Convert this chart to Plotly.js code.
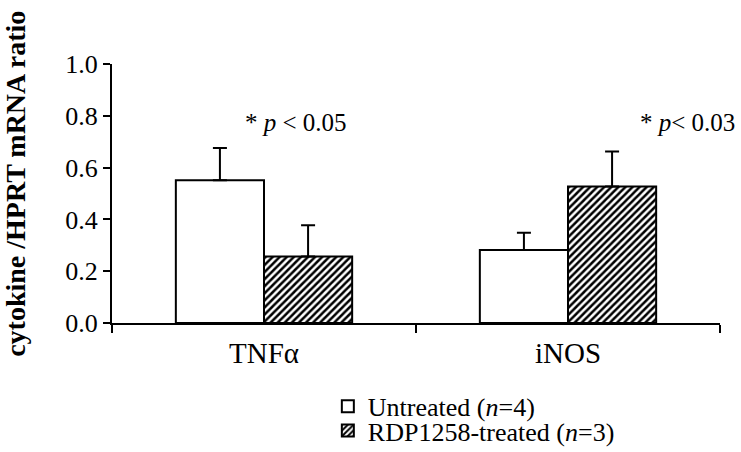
<!DOCTYPE html>
<html>
<head>
<meta charset="utf-8">
<script src="https://cdn.plot.ly/plotly-3.0.1.min.js"></script>
<style>body{margin:0;padding:0;background:#fff;}#chart{width:741px;height:452px;}</style>
</head>
<body>
<div id="chart"></div>
<script>
const categories = ["TNFα", "iNOS"];
const untreatedValues = [0.551, 0.282];
const untreatedErrors = [0.125, 0.066];
const treatedValues = [0.257, 0.527];
const treatedErrors = [0.12, 0.135];
const seriesNames = ["Untreated (<i>n</i>=4)", "RDP1258-treated (<i>n</i>=3)"];
const yTickValues = [0, 0.2, 0.4, 0.6, 0.8, 1.0];
const pLabels = ["* <i>p</i> < 0.05", "* <i>p</i>< 0.03"];
const yTitle = "cytokine /HPRT mRNA ratio";

const serif = "Liberation Serif, Times New Roman, serif";

const traces = [
  {
    type: "bar", x: categories, y: untreatedValues, name: seriesNames[0],
    marker: {color: "#ffffff", line: {color: "#000", width: 2}},
    error_y: {type: "data", array: untreatedErrors, arrayminus: [0, 0], symmetric: false, color: "#000", thickness: 2, width: 7},
    legend: "legend"
  },
  {
    type: "bar", x: categories, y: treatedValues, name: seriesNames[1],
    marker: {color: "#ffffff", line: {color: "#000", width: 2},
      pattern: {shape: "/", fgcolor: "#000", bgcolor: "#fff", size: 5, solidity: 0.5}},
    error_y: {type: "data", array: treatedErrors, arrayminus: [0, 0], symmetric: false, color: "#000", thickness: 2, width: 7},
    legend: "legend2"
  }
];

const layout = {
  width: 741, height: 452,
  margin: {l: 112, r: 21, t: 64, b: 129, autoexpand: false},
  paper_bgcolor: "#fff", plot_bgcolor: "#fff",
  font: {family: serif, color: "#000", size: 24},
  barmode: "group", bargap: 0.42, bargroupgap: 0,
  xaxis: {
    type: "category", showline: true, linecolor: "#000", linewidth: 2,
    ticks: "outside", tickson: "boundaries", ticklen: 8, tickwidth: 2, tickcolor: "#000",
    tickfont: {family: serif, size: 29}, showgrid: false, zeroline: false,
    ticklabelstandoff: 3, automargin: false
  },
  xaxis2: {
    overlaying: "x", anchor: "y", type: "linear", range: [-0.5, 1.5],
    tickvals: [0.5, 1.5], ticks: "inside", ticklen: 6, tickwidth: 2, tickcolor: "#000",
    showticklabels: false, showgrid: false, zeroline: false, showline: false, side: "bottom"
  },
  yaxis: {
    range: [0, 1], tickvals: yTickValues, tickformat: ".1f", showline: true, linecolor: "#000", linewidth: 2,
    ticks: "outside", ticklen: 7, tickwidth: 2, tickcolor: "#000", showgrid: false, zeroline: false,
    tickfont: {family: serif, size: 26}, automargin: false
  },
  yaxis2: {
    overlaying: "y", anchor: "x", range: [0, 1], tickvals: yTickValues, ticks: "inside", ticklen: 6,
    tickwidth: 2, tickcolor: "#000", showticklabels: false, showgrid: false, zeroline: false, showline: false, side: "left"
  },
  legend: {x: 0.355, y: -0.322, xanchor: "left", yanchor: "middle", bgcolor: "rgba(0,0,0,0)",
    font: {family: serif, size: 26}, itemwidth: 30},
  legend2: {x: 0.355, y: -0.415, xanchor: "left", yanchor: "middle", bgcolor: "rgba(0,0,0,0)",
    font: {family: serif, size: 26}, itemwidth: 30},
  showlegend: true,
  annotations: [
    {text: pLabels[0], xref: "paper", yref: "paper", x: 0.303, y: 0.776, xanchor: "center", yanchor: "middle",
      showarrow: false, font: {family: serif, size: 25}},
    {text: pLabels[1], xref: "paper", yref: "paper", x: 0.865, y: 0.776, xanchor: "left", yanchor: "middle",
      showarrow: false, font: {family: serif, size: 25}},
    {text: "<b>" + yTitle + "</b>", xref: "paper", yref: "paper", x: -0.158, y: 0.537, xanchor: "center", yanchor: "middle",
      textangle: -90, showarrow: false, font: {family: serif, size: 28}}
  ]
};

Plotly.newPlot("chart", traces, layout, {displayModeBar: false, staticPlot: true});
</script>
</body>
</html>
